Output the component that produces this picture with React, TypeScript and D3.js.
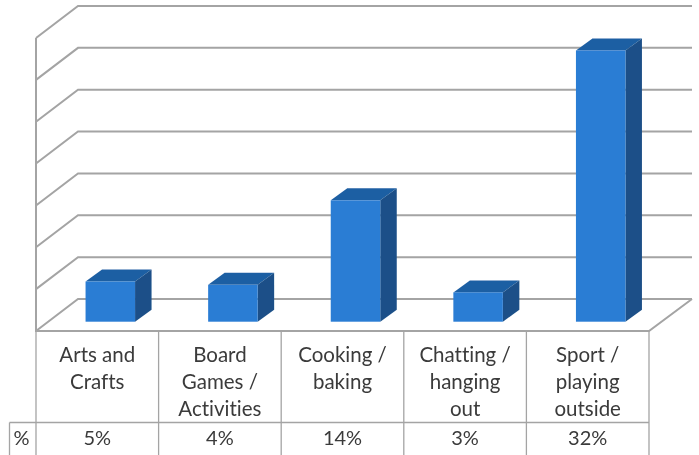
import React from "react";
import * as d3 from "d3";

const categories = ["Arts and Crafts", "Board Games / Activities", "Cooking / baking", "Chatting / hanging out", "Sport / playing outside"];
const categoryLines = [["Arts and", "Crafts"], ["Board", "Games /", "Activities"], ["Cooking /", "baking"], ["Chatting /", "hanging", "out"], ["Sport /", "playing", "outside"]];
const barHeights = [4.8, 4.4, 14.5, 3.5, 32.4];
const tableLabels = ["5%", "4%", "14%", "3%", "32%"];
const gridTicks = [0, 5, 10, 15, 20, 25, 30, 35];

const W = 699, H = 455;
const GRID = "#a4a4a4", TEXT = "#3a3a3a";
const FRONT = "#2a7dd4", TOP = "#1f5fa3", SIDE = "#1b5088";
const FONT = "Lato, 'Open Sans', sans-serif";

export default function App() {
  const x = d3.scaleBand<string>().domain(categories).range([36, 649]);
  const y = d3.scaleLinear().domain([0, 35]).range([331, 38]);
  const wallDx = 42, wallDy = 32;
  const barDx = 16.5, barDy = 12;
  const barW = 49.5;
  const barOffset = 13;
  const barBase = 321.7 - y(0);
  const tableTop = y(0), tableRow = 422.5;
  const line = d3.line();

  return (
    <svg width={W} height={H} style={{ position: "absolute", left: 0, top: 0, background: "#fff" }}>
      <defs>
        <filter id="soft" x="-5%" y="-5%" width="110%" height="110%">
          <feGaussianBlur stdDeviation="0.45" />
        </filter>
      </defs>
      <g filter="url(#soft)">
        {gridTicks.map((t) => (
          <path key={t} fill="none" stroke={GRID} strokeWidth={2}
            d={line([[36, y(t)], [36 + wallDx, y(t) - wallDy], [692, y(t) - wallDy]]) ?? ""} />
        ))}
        <path fill="none" stroke={GRID} strokeWidth={2} d={line([[36, y(35)], [36, y(0)], [649, y(0)], [692, y(0) - wallDy]]) ?? ""} />

        {categories.map((c, i) => {
          const bw = x.bandwidth();
          const x0 = (x(c) ?? 0) + bw / 2 + barOffset - barW / 2;
          const x1 = x0 + barW;
          const yB = y(0) + barBase;
          const yT = yB - (y(0) - y(barHeights[i]));
          return (
            <g key={c}>
              <polygon fill={TOP} points={[[x0, yT], [x0 + barDx, yT - barDy], [x1 + barDx, yT - barDy], [x1, yT]].join(" ")} />
              <polygon fill={SIDE} points={[[x1, yT], [x1 + barDx, yT - barDy], [x1 + barDx, yB - barDy], [x1, yB]].join(" ")} />
              <rect x={x0} y={yT} width={barW} height={yB - yT} fill={FRONT} />
            </g>
          );
        })}

        <g stroke={GRID} strokeWidth={1.3} fill="none">
          {categories.map((c) => (
            <line key={c} x1={x(c)} x2={x(c)} y1={tableTop} y2={H} />
          ))}
          <line x1={649} x2={649} y1={tableTop} y2={H} />
          <line x1={9.5} x2={649} y1={tableRow} y2={tableRow} />
          <line x1={9.5} x2={9.5} y1={tableRow} y2={H} />
        </g>
        <g fontFamily={FONT} fontSize={20.5} fill={TEXT} textAnchor="middle" style={{ fontVariantLigatures: "none" }}>
          {categories.map((c, i) => {
            const cx = (x(c) ?? 0) + x.bandwidth() / 2;
            return (
              <g key={c}>
                {categoryLines[i].map((l, j) => (
                  <text key={l} x={cx} y={362 + j * 27}>{l}</text>
                ))}
                <text x={cx} y={445} fontSize={20}>{tableLabels[i]}</text>
              </g>
            );
          })}
          <text x={21.5} y={445} fontSize={20}>%</text>
        </g>
      </g>
    </svg>
  );
}
